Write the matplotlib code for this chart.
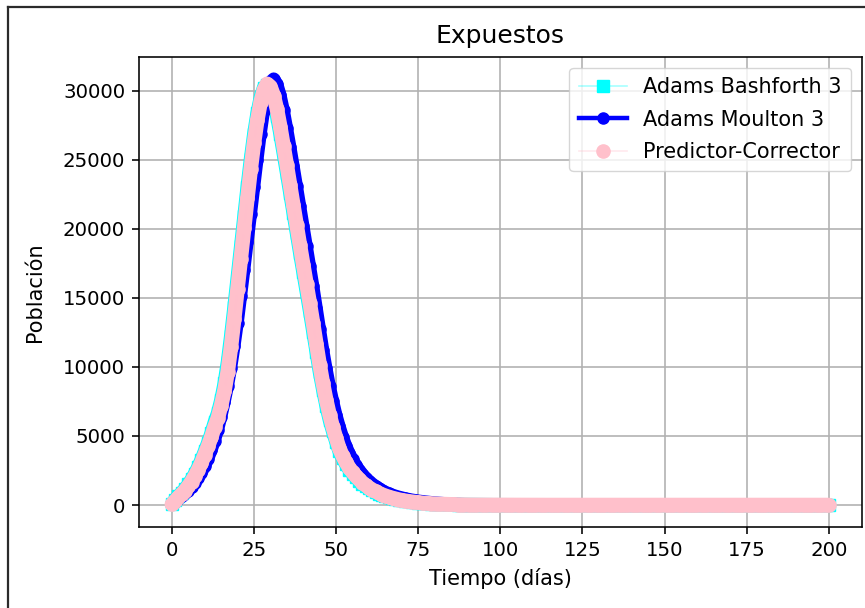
import numpy as np
import matplotlib
matplotlib.use("Agg")
import matplotlib.pyplot as plt
from matplotlib.lines import Line2D

# Expuestos (SEIR) - tres metodos numericos, valores leidos del grafico
# dias 0..89, la cola (90..200) es comun a los tres
ab3_head = [50, 400, 650, 900, 1170, 1490, 1860, 2280, 2750, 3290,
            3890, 4510, 5200, 6000, 6660, 7620, 8810, 10370, 12270, 14360,
            16530, 18730, 20910, 23040, 25060, 26860, 28370, 29510, 30230, 30420,
            30040, 29250, 28150, 26850, 25440, 24020, 22570, 21120, 19670, 18240,
            16840, 15440, 14020, 12550, 11050, 9610, 8340, 7180, 6170, 5330,
            4570, 3880, 3370, 2940, 2570, 2270, 2000, 1760, 1550, 1360,
            1200, 1060, 930, 820, 720, 640, 560, 500, 435, 380,
            335, 295, 258, 228, 200, 175, 152, 134, 119, 104,
            91, 81, 71, 62, 54, 47, 42, 36, 31, 27]

am3_head = [50, 250, 450, 650, 850, 1050, 1300, 1600, 1950, 2350,
            2800, 3350, 3950, 4650, 5450, 6400, 7450, 8600, 9950, 11500,
            13200, 15100, 17050, 19050, 21050, 23050, 25000, 26900, 28550, 29850,
            30650, 30870, 30500, 29700, 28600, 27300, 25950, 24550, 23100, 21650,
            20200, 18750, 17300, 15850, 14300, 12750, 11250, 9900, 8650, 7550,
            6550, 5700, 4950, 4300, 3750, 3300, 2900, 2550, 2250, 1980,
            1750, 1550, 1370, 1210, 1070, 950, 840, 750, 670, 600,
            540, 480, 430, 385, 345, 310, 280, 250, 225, 200,
            180, 160, 140, 125, 110, 95, 85, 75, 65, 57]

pc_head = [50, 300, 550, 800, 1050, 1350, 1700, 2100, 2550, 3050,
           3650, 4250, 4900, 5650, 6300, 7200, 8250, 9650, 11450, 13500,
           15650, 17850, 20050, 22200, 24300, 26200, 27850, 29150, 30050, 30500,
           30300, 29650, 28650, 27400, 26000, 24600, 23150, 21700, 20250, 18800,
           17400, 16000, 14600, 13150, 11650, 10150, 8800, 7600, 6550, 5650,
           4850, 4100, 3550, 3100, 2700, 2380, 2100, 1850, 1630, 1430,
           1260, 1110, 980, 860, 760, 670, 590, 520, 460, 400,
           350, 310, 270, 240, 210, 185, 160, 140, 125, 110,
           95, 85, 75, 65, 57, 50, 44, 38, 33, 29]

tail = [25, 22, 19, 17, 15, 13, 11, 10, 9, 8,
        7, 6, 5, 5, 4, 4, 3, 3, 3, 2,
        2, 2, 2, 1, 1, 1, 1, 1, 1, 1,
        0, 0, 0, 0, 0, 0, 0, 0, 0, 0,
        0, 0, 0, 0, 0, 0, 0, 0, 0, 0,
        0, 0, 0, 0, 0, 0, 0, 0, 0, 0,
        0, 0, 0, 0, 0, 0, 0, 0, 0, 0,
        0, 0, 0, 0, 0, 0, 0, 0, 0, 0,
        0, 0, 0, 0, 0, 0, 0, 0, 0, 0,
        0, 0, 0, 0, 0, 0, 0, 0, 0, 0,
        0, 0, 0, 0, 0, 0, 0, 0, 0, 0,
        0]

E_ab3 = np.array(ab3_head + tail)
E_am3 = np.array(am3_head + tail)
E_pc = np.array(pc_head + tail)
t = np.arange(len(E_pc))  # dias

plt.rcParams['font.size'] = 15
plt.rcParams['xtick.labelsize'] = 14.2
plt.rcParams['ytick.labelsize'] = 14.2

fig = plt.figure(figsize=(8.65, 6.08), dpi=100)
ax = fig.add_axes([0.1607, 0.1337, 0.8355, 0.7721])

# banda gruesa (los puntos del original estan muy juntos y forman una banda)
band = dict(solid_capstyle='round', solid_joinstyle='round')

ax.plot(t, E_ab3, color='cyan', lw=10.0, **band)
ax.plot(t, E_ab3, 's', linestyle='-', color=(0, 1, 1, 0.35), lw=1.2,
        markersize=8.5, markerfacecolor='cyan', markeredgecolor='cyan',
        label='Adams Bashforth 3')

ax.plot(t, E_am3, color='blue', lw=9, **band)
ax.plot(t, E_am3, 'o', linestyle='-', color='blue', lw=3.2,
        markersize=8, label='Adams Moulton 3')

ax.plot(t, E_pc, color='pink', lw=10.5, **band)
ax.plot(t, E_pc, 'o', linestyle='-', color=(1, 0.75, 0.8, 0.35), lw=1.2,
        markersize=9.5, markerfacecolor='pink', markeredgecolor='pink',
        label='Predictor-Corrector')

ax.set_xlim(-10, 210)
ax.set_ylim(-1570, 32420)
ax.set_title('Expuestos', pad=10)
ax.set_xlabel('Tiempo (días)', labelpad=6)
ax.set_ylabel('Población', labelpad=13)
ax.grid(True, lw=1.15, color='#b0b0b0')
for s in ax.spines.values():
    s.set_linewidth(1.15)
ax.tick_params(width=1.15, length=5, pad=5)
ax.legend(loc='upper right', handlelength=2.3, labelspacing=0.6,
          borderpad=0.45)

# marco oscuro de la captura (izquierda y arriba)
fig.add_artist(Line2D([0.0093, 0.0093], [0, 0.989], color='#2b2b2b', lw=1.6,
                      transform=fig.transFigure))
fig.add_artist(Line2D([0.0093, 1], [0.989, 0.989], color='#2b2b2b', lw=1.6,
                      transform=fig.transFigure))

fig.savefig('out.png', dpi=100)
